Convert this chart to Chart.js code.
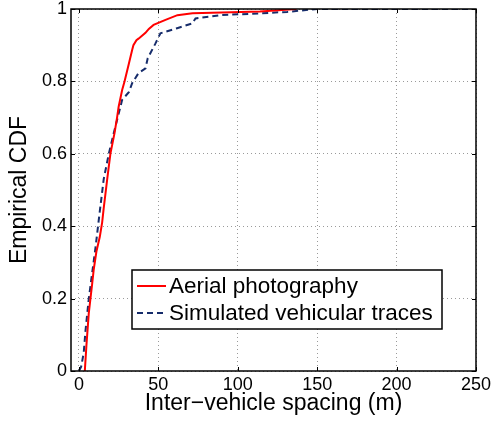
<!DOCTYPE html>
<html>
<head>
<meta charset="utf-8">
<script src="https://cdn.jsdelivr.net/npm/chart.js@4.4.1/dist/chart.umd.min.js"></script>
<style>
  html, body { margin: 0; padding: 0; background: #fff; }
  #wrap { width: 495px; height: 428px; }
</style>
</head>
<body>
<div id="wrap"><canvas id="cdf"></canvas></div>
<script>
const seriesLabels = ['Aerial photography', 'Simulated vehicular traces'];

// Aerial photography ECDF (spacing in m, cumulative fraction)
const aerialSpacing = [3.7, 4.7, 6.2, 8.3, 9.3, 11, 13.1, 14.6, 15.6, 17.8, 19.8, 22.4, 24, 25, 27.2, 28.7, 31.5, 33.5, 34.3, 36.2, 37.5, 41.9, 44, 47, 54.5, 62, 71.5, 90, 114, 137];
const aerialCdf     = [0, 0.07, 0.16, 0.24, 0.28, 0.33, 0.37, 0.41, 0.45, 0.53, 0.6, 0.657, 0.7, 0.73, 0.776, 0.8, 0.85, 0.887, 0.9, 0.914, 0.918, 0.934, 0.945, 0.956, 0.97, 0.983, 0.988, 0.99, 0.993, 1];

// Simulated vehicular traces ECDF
const simSpacing = [0, 1.4, 3, 4.1, 6.2, 7.7, 10.4, 13.1, 15.6, 18.8, 21.9, 24.4, 27.2, 31.4, 33.5, 37.5, 41.9, 43.3, 48.2, 51.3, 61.8, 71.3, 73.4, 89, 114, 131, 150, 250];
const simCdf     = [0, 0.012, 0.05, 0.11, 0.2, 0.25, 0.34, 0.44, 0.53, 0.6, 0.657, 0.7, 0.749, 0.77, 0.795, 0.823, 0.836, 0.864, 0.905, 0.933, 0.947, 0.96, 0.974, 0.983, 0.988, 0.992, 1, 1];

const xTicks = [0, 50, 100, 150, 200, 250];
const yTicks = [0, 0.2, 0.4, 0.6, 0.8, 1];

const toPoints = (xs, ys) => xs.map((x, i) => ({ x, y: ys[i] }));

const FONT = 'Liberation Sans, Arial, Helvetica, sans-serif';

// matlab-ish box, inward ticks and the legend box inside the axes
const axesBox = {
    id: 'axesBox',
    afterDatasetsDraw(chart) {
        const { ctx, chartArea: a, scales: { x, y } } = chart;
        ctx.save();
        ctx.strokeStyle = '#000';
        ctx.lineWidth = 1.5;
        ctx.strokeRect(a.left, a.top, a.right - a.left, a.bottom - a.top);
        ctx.lineWidth = 1;
        ctx.beginPath();
        xTicks.forEach(v => {
            const px = Math.round(x.getPixelForValue(v)) + 0.5;
            ctx.moveTo(px, a.bottom); ctx.lineTo(px, a.bottom - 4);
            ctx.moveTo(px, a.top); ctx.lineTo(px, a.top + 4);
        });
        yTicks.forEach(v => {
            const py = Math.round(y.getPixelForValue(v)) + 0.5;
            ctx.moveTo(a.left, py); ctx.lineTo(a.left + 4, py);
            ctx.moveTo(a.right, py); ctx.lineTo(a.right - 4, py);
        });
        ctx.stroke();

        // legend
        const lx = 132, ly = 270, lw = 310, lh = 59;
        ctx.fillStyle = '#fff';
        ctx.fillRect(lx, ly, lw, lh);
        ctx.lineWidth = 1.5;
        ctx.strokeStyle = '#000';
        ctx.strokeRect(lx, ly, lw, lh);
        ctx.font = '22.5px ' + FONT;
        ctx.textBaseline = 'middle';
        chart.data.datasets.forEach((ds, i) => {
            const cy = ly + 16 + i * 27;
            ctx.strokeStyle = ds.borderColor;
            ctx.lineWidth = ds.borderWidth;
            ctx.setLineDash(ds.borderDash || []);
            ctx.beginPath();
            ctx.moveTo(lx + 5, cy); ctx.lineTo(lx + 34, cy);
            ctx.stroke();
            ctx.setLineDash([]);
            ctx.fillStyle = '#000';
            ctx.fillText(ds.label, lx + 37, cy + 1);
        });
        ctx.restore();
    }
};

new Chart(document.getElementById('cdf'), {
    type: 'scatter',
    data: {
        datasets: [{
            label: seriesLabels[0],
            data: toPoints(aerialSpacing, aerialCdf),
            showLine: true,
            borderColor: '#ff0000',
            borderWidth: 2,
            pointRadius: 0,
            tension: 0,
        }, {
            label: seriesLabels[1],
            data: toPoints(simSpacing, simCdf),
            showLine: true,
            borderColor: '#162c6b',
            borderWidth: 2,
            borderDash: [6, 4],
            pointRadius: 0,
            tension: 0,
        }]
    },
    options: {
        responsive: true,
        maintainAspectRatio: false,
        animation: false,
        layout: { padding: { left: 0, top: 9, right: 19, bottom: 0 } },
        plugins: { legend: { display: false }, tooltip: { enabled: false } },
        scales: {
            x: {
                type: 'linear',
                min: -5,
                max: 250,
                afterBuildTicks: s => { s.ticks = xTicks.map(v => ({ value: v })); },
                afterFit: s => { s.height = 57; s.paddingLeft = 0; s.paddingRight = 0; },
                grid: { color: '#9a9a9a', lineWidth: 1, drawTicks: false },
                border: { display: false, dash: [1, 3] },
                ticks: { color: '#000', padding: 3, font: { family: FONT, size: 18 }, maxRotation: 0, callback: v => String(v) },
                title: {
                    display: true,
                    text: 'Inter\u2212vehicle spacing (m)',
                    color: '#000',
                    font: { family: FONT, size: 23 },
                    padding: { top: 0, bottom: 11 }
                }
            },
            y: {
                min: 0,
                max: 1,
                afterBuildTicks: s => { s.ticks = yTicks.map(v => ({ value: v })); },
                afterFit: s => { s.width = 71; s.paddingTop = 0; s.paddingBottom = 0; },
                grid: { color: '#9a9a9a', lineWidth: 1, drawTicks: false },
                border: { display: false, dash: [1, 3] },
                ticks: { color: '#000', padding: 4, font: { family: FONT, size: 18 }, callback: v => String(v) },
                title: {
                    display: true,
                    text: 'Empirical CDF',
                    color: '#000',
                    font: { family: FONT, size: 23 },
                    padding: { top: 6, bottom: 0 }
                }
            }
        }
    },
    plugins: [axesBox]
});
</script>
</body>
</html>
